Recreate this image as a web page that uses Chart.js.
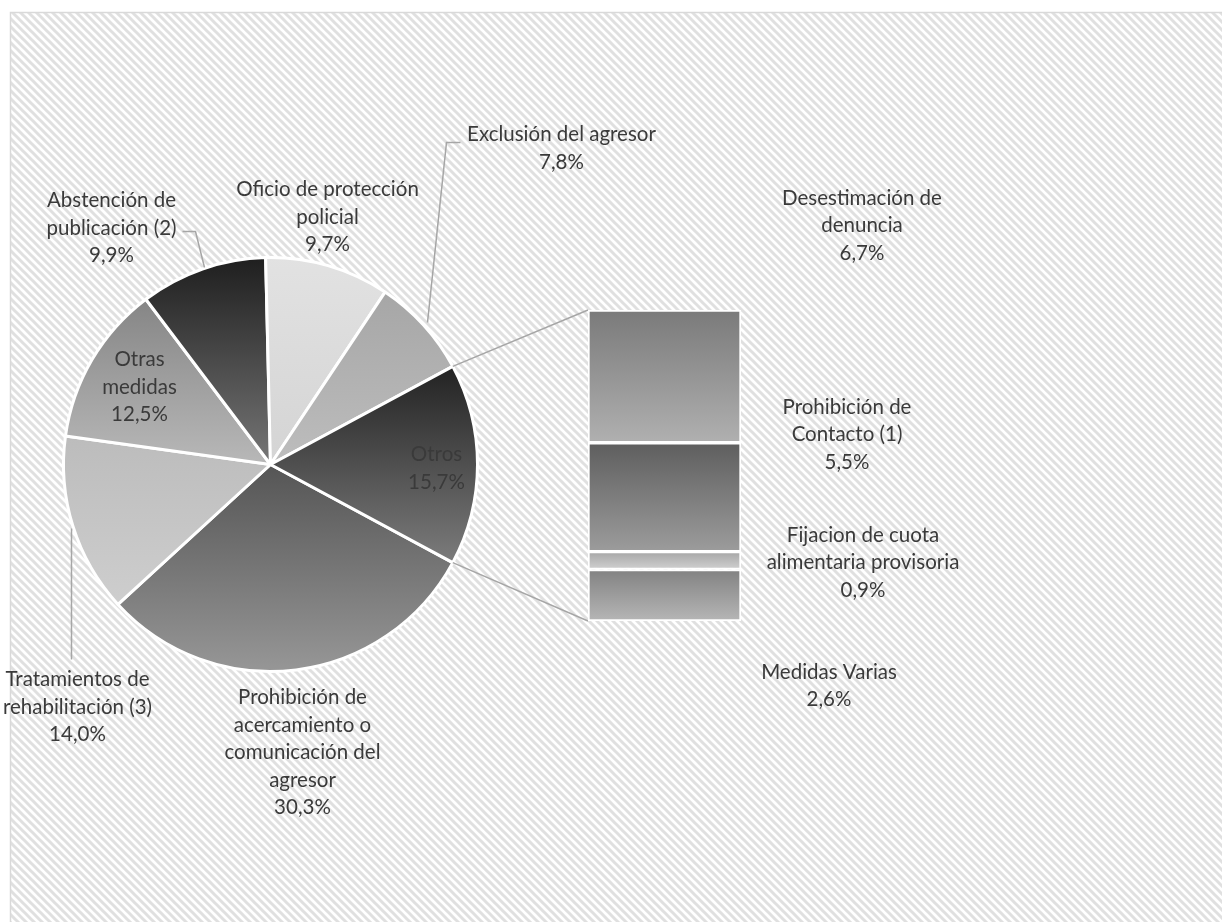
<!DOCTYPE html>
<html>
<head>
<meta charset="utf-8">
<script src="https://cdn.jsdelivr.net/npm/chart.js@4.4.1/dist/chart.umd.min.js"></script>
<style>
html, body { margin: 0; padding: 0; background: #fff; }
#wrap { position: relative; width: 1222px; height: 922px; }
#wrap canvas { position: absolute; left: 0; top: 0; }
</style>
</head>
<body>
<div id="wrap">
  <canvas id="pie" width="1222" height="922"></canvas>
  <canvas id="bar" width="1222" height="922"></canvas>
</div>
<script>
// pie slices, clockwise from the "Otros" slice
const pieCats = [
    ["Prohibición de", "acercamiento o", "comunicación del", "agresor"],
    ["Tratamientos de", "rehabilitación (3)"],
    ["Otras", "medidas"],
    ["Abstención de", "publicación (2)"],
    ["Oficio de protección", "policial"],
    ["Exclusión del agresor"],
    ["Otros"]
];
const piePct = [30.3, 14.0, 12.5, 9.9, 9.7, 7.8, 15.7];

// the "Otros" breakdown, top to bottom
const barCats = [
    ["Desestimación de", "denuncia"],
    ["Prohibición de", "Contacto (1)"],
    ["Fijacion de cuota", "alimentaria provisoria"],
    ["Medidas Varias"]
];
const barPct = [6.7, 5.5, 0.9, 2.6];

// gradient top / bottom for each slice and segment
const pieShades = [
    ["#555555", "#979797"], ["#bcbcbc", "#cecece"], ["#858585", "#b8b8b8"],
    ["#1e1e1e", "#767676"], ["#e2e2e2", "#d4d4d4"], ["#a6a6a6", "#bdbdbd"],
    ["#222222", "#7c7c7c"]
];
const barShades = [["#7a7a7a", "#b0b0b0"], ["#5e5e5e", "#9c9c9c"], ["#a6a6a6", "#d0d0d0"], ["#828282", "#b6b6b6"]];

// where the labels were dragged to (first line, relative to pie centre / bar corner)
const pieLabelAt = [[32, 233], [-193, 215], [-131, -105], [-159, -264], [57, -275], [291, -330], [166, -10]];
const pieLeaders = {
    5: [[190, -322], [176, -322], [157, -142]],
    3: [[-88, -233], [-75, -233], [-66, -197]],
    1: [[-199, 64], [-199, 195]]
};
const barLabelAt = [[274, -112], [259, 97], [275, 225], [241, 362]];

const FONT = '20.5px Lato';
const TEXT = '#3a3a3a';
const LINE_H = 27.5;

const total = piePct.reduce((s, v) => s + v, 0);
const pieRotation = 90 + piePct[piePct.length - 1] / total * 180;

function fmt(v) {
    return v.toFixed(1).replace('.', ',') + '%';
}

function drawLines(c, lines, x, y) {
    c.save();
    c.font = FONT;
    c.fillStyle = TEXT;
    c.textAlign = 'center';
    c.textBaseline = 'middle';
    lines.forEach((l, i) => c.fillText(l, x, y + i * LINE_H));
    c.restore();
}

function hatch(c) {
    const p = document.createElement('canvas');
    p.width = 8; p.height = 8;
    const g = p.getContext('2d');
    g.fillStyle = '#ffffff';
    g.fillRect(0, 0, 8, 8);
    g.strokeStyle = '#e0e0e0';
    g.lineWidth = 3;
    g.beginPath();
    g.moveTo(-4, -4); g.lineTo(12, 12);
    g.moveTo(-4, 4); g.lineTo(4, 12);
    g.moveTo(4, -4); g.lineTo(12, 4);
    g.stroke();
    return c.createPattern(p, 'repeat');
}

function pieFill(ctx) {
    const chart = ctx.chart, a = chart.chartArea;
    const sh = pieShades[ctx.dataIndex];
    if (!a) return sh[0];
    const cy = (a.top + a.bottom) / 2, r = Math.min(a.width, a.height) / 2;
    let a0 = (pieRotation - 90) * Math.PI / 180;
    for (let i = 0; i < ctx.dataIndex; i++) a0 += piePct[i] / total * 2 * Math.PI;
    const a1 = a0 + piePct[ctx.dataIndex] / total * 2 * Math.PI;
    let top = cy, bot = cy;
    for (let k = 0; k <= 60; k++) {
        const y = cy + r * Math.sin(a0 + (a1 - a0) * k / 60);
        top = Math.min(top, y);
        bot = Math.max(bot, y);
    }
    if (!isFinite(top) || !isFinite(bot)) return sh[0];
    const g = chart.ctx.createLinearGradient(0, top, 0, bot);
    g.addColorStop(0, sh[0]);
    g.addColorStop(1, sh[1]);
    return g;
}

function barFill(ctx) {
    const chart = ctx.chart, y = chart.scales.y;
    const i = ctx.datasetIndex, sh = barShades[i];
    if (!y) return sh[0];
    let s = 0;
    for (let k = 0; k < i; k++) s += barPct[k];
    const y0 = y.getPixelForValue(s), y1 = y.getPixelForValue(s + barPct[i]);
    if (!isFinite(y0) || !isFinite(y1)) return sh[0];
    const g = chart.ctx.createLinearGradient(0, y0, 0, y1);
    g.addColorStop(0, sh[0]);
    g.addColorStop(1, sh[1]);
    return g;
}

const backdrop = {
    id: 'backdrop',
    beforeDraw(chart) {
        const c = chart.ctx;
        c.save();
        c.fillStyle = '#fff';
        c.fillRect(0, 0, chart.width, chart.height);
        c.fillStyle = hatch(c);
        c.fillRect(10, 12, chart.width - 10, chart.height - 12);
        c.strokeStyle = '#d9d9d9';
        c.lineWidth = 1.5;
        c.strokeRect(10.5, 12.5, chart.width + 10, chart.height + 10);
        c.restore();
    }
};

const pieText = {
    id: 'pieText',
    afterDatasetsDraw(chart) {
        const c = chart.ctx;
        const arc = chart.getDatasetMeta(0).data[0];
        const cx = arc.x, cy = arc.y;
        c.save();
        c.strokeStyle = '#a6a6a6';
        c.lineWidth = 1.5;
        Object.keys(pieLeaders).forEach(k => {
            const pts = pieLeaders[k];
            c.beginPath();
            pts.forEach((p, i) => i ? c.lineTo(cx + p[0], cy + p[1]) : c.moveTo(cx + p[0], cy + p[1]));
            c.stroke();
        });
        c.restore();
        pieCats.forEach((lab, i) => {
            drawLines(c, lab.concat([fmt(piePct[i])]), cx + pieLabelAt[i][0], cy + pieLabelAt[i][1]);
        });
    }
};

const pieChart = new Chart(document.getElementById('pie'), {
    type: 'pie',
    data: {
        labels: pieCats.map(l => l.join(' ')),
        datasets: [{
            data: piePct,
            backgroundColor: pieFill,
            borderColor: '#ffffff',
            borderWidth: 3
        }]
    },
    options: {
        responsive: false,
        animation: false,
        events: [],
        rotation: pieRotation,
        layout: { padding: { left: 62, right: 743, top: 256, bottom: 249 } },
        plugins: { legend: { display: false }, tooltip: { enabled: false } }
    },
    plugins: [backdrop, pieText]
});

const barText = {
    id: 'barText',
    beforeDatasetsDraw(chart) {
        // connectors from the "Otros" slice to the bar
        const c = chart.ctx;
        const otros = pieChart.getDatasetMeta(0).data[piePct.length - 1];
        const a = chart.chartArea;
        const r = otros.outerRadius;
        c.save();
        c.strokeStyle = '#a6a6a6';
        c.lineWidth = 1.5;
        c.beginPath();
        c.moveTo(otros.x + r * Math.cos(otros.startAngle), otros.y + r * Math.sin(otros.startAngle));
        c.lineTo(a.left, a.top);
        c.moveTo(otros.x + r * Math.cos(otros.endAngle), otros.y + r * Math.sin(otros.endAngle));
        c.lineTo(a.left, a.bottom);
        c.stroke();
        c.restore();
    },
    afterDatasetsDraw(chart) {
        const a = chart.chartArea;
        barCats.forEach((lab, i) => {
            drawLines(chart.ctx, lab.concat([fmt(barPct[i])]), a.left + barLabelAt[i][0], a.top + barLabelAt[i][1]);
        });
    }
};

new Chart(document.getElementById('bar'), {
    type: 'bar',
    data: {
        labels: ['Otros'],
        datasets: barCats.map((lab, i) => ({
            label: lab.join(' '),
            data: [barPct[i]],
            backgroundColor: barFill,
            borderColor: '#ffffff',
            borderWidth: 2,
            borderSkipped: false,
            barPercentage: 1,
            categoryPercentage: 1
        }))
    },
    options: {
        responsive: false,
        animation: false,
        events: [],
        layout: { padding: { left: 588, right: 481, top: 310, bottom: 301 } },
        scales: {
            x: { display: false, stacked: true },
            y: { display: false, stacked: true, reverse: true, min: 0, max: barPct.reduce((s, v) => s + v, 0) }
        },
        plugins: { legend: { display: false }, tooltip: { enabled: false } }
    },
    plugins: [barText]
});
</script>
</body>
</html>
